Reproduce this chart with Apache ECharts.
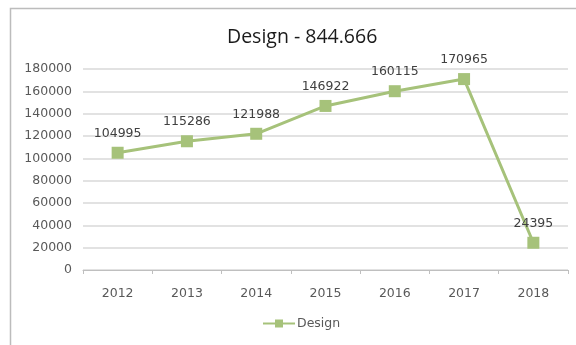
<!DOCTYPE html>
<html>
<head>
<meta charset="utf-8">
<script src="https://cdn.jsdelivr.net/npm/echarts@6/dist/echarts.min.js"></script>
<style>
  html, body { margin: 0; padding: 0; background: #fff; }
  #chart { width: 576px; height: 345px; }
</style>
</head>
<body>
<div id="chart"></div>
<script>
// Yearly totals for the "Design" series
var years = ['2012', '2013', '2014', '2015', '2016', '2017', '2018'];
var designValues = [104995, 115286, 121988, 146922, 160115, 170965, 24395];
var seriesName = 'Design';
var chartTitle = 'Design - 844.666';

var labelFont = 'DejaVu Sans';
var labelSize = 12.5;
var chart = echarts.init(document.getElementById('chart'));
chart.setOption({
  animation: false,
  backgroundColor: '#ffffff',
  graphic: [{
    type: 'rect',
    shape: { x: 10.5, y: 8.5, width: 600, height: 400 },
    style: { fill: 'none', stroke: '#bcbcbc', lineWidth: 1.5 },
    z: 0
  }],
  title: {
    text: chartTitle,
    left: 222,
    top: 22,
    textStyle: { fontFamily: 'Open Sans', fontSize: 19.5, fontWeight: 'normal', color: '#1a1a1a' }
  },
  legend: {
    bottom: 10,
    left: 257,
    data: [seriesName],
    itemWidth: 32,
    itemHeight: 10,
    itemGap: 2,
    textStyle: { fontFamily: labelFont, fontSize: labelSize, color: '#595959', padding: [0, 0, 0, -3] }
  },
  grid: { left: 83, right: 8, top: 69, bottom: 75 },
  xAxis: {
    type: 'category',
    data: years,
    boundaryGap: true,
    axisLine: { lineStyle: { color: '#bfbfbf' } },
    axisTick: { show: true, lineStyle: { color: '#bfbfbf' }, length: 4 },
    axisLabel: { fontFamily: labelFont, fontSize: labelSize, color: '#595959', margin: 17 }
  },
  yAxis: {
    type: 'value',
    min: 0,
    max: 180000,
    interval: 20000,
    axisLine: { show: false },
    axisTick: { show: false },
    splitLine: { lineStyle: { color: '#d9d9d9', width: 1.5 } },
    axisLabel: {
      fontFamily: labelFont,
      fontSize: labelSize,
      color: '#595959',
      margin: 11,
      formatter: function (v) { return String(v); }
    }
  },
  series: [{
    name: seriesName,
    type: 'line',
    data: designValues,
    symbol: 'rect',
    symbolSize: 12,
    itemStyle: { color: '#a6c27a' },
    lineStyle: { color: '#a6c27a', width: 3 },
    label: {
      show: true,
      position: 'top',
      distance: 7,
      fontFamily: labelFont,
      fontSize: labelSize,
      color: '#404040'
    }
  }]
});
</script>
</body>
</html>
